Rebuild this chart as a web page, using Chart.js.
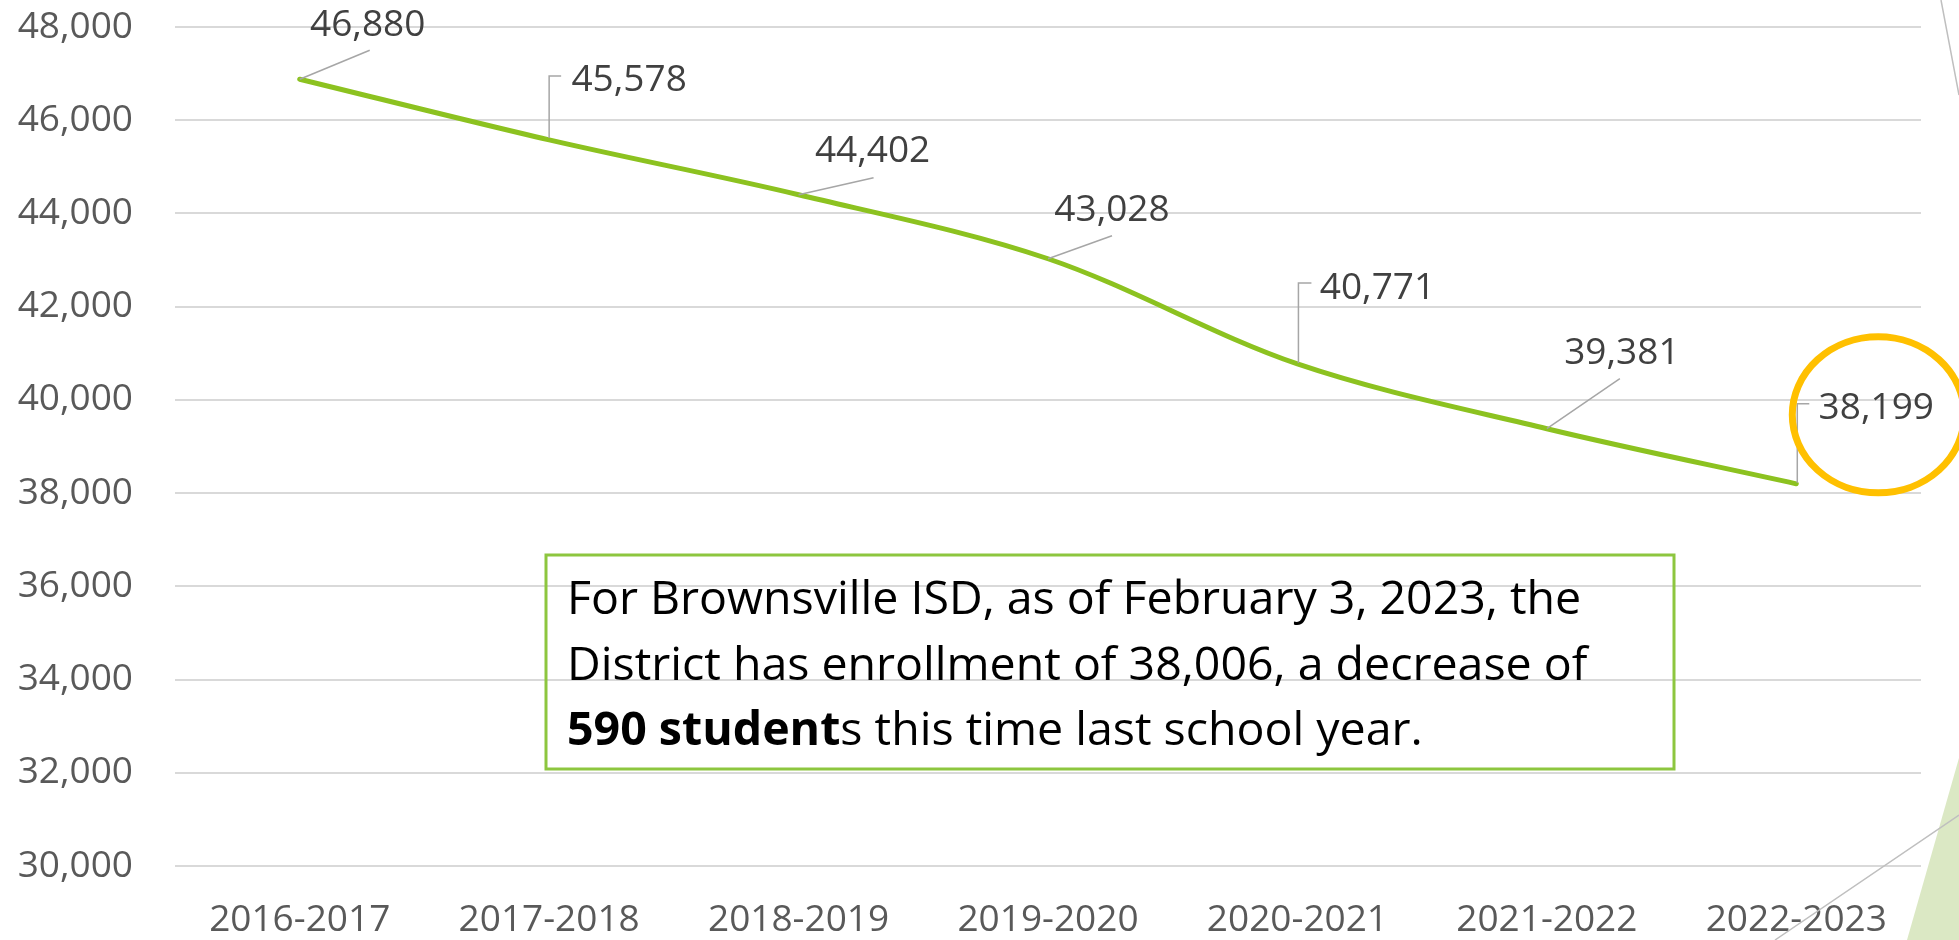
<!DOCTYPE html>
<html>
<head>
<meta charset="utf-8">
<script src="https://cdn.jsdelivr.net/npm/chart.js@4/dist/chart.umd.min.js"></script>
<style>
  html, body { margin: 0; padding: 0; background: #fff; }
  #wrap { position: relative; width: 1959px; height: 940px; }
</style>
</head>
<body>
<div id="wrap"><canvas id="enrollmentChart"></canvas></div>
<script>
  "use strict";

  // enrollment by school year
  const schoolYears = ['2016-2017', '2017-2018', '2018-2019', '2019-2020', '2020-2021', '2021-2022', '2022-2023'];
  const enrollment = [46880, 45578, 44402, 43028, 40771, 39381, 38199];
  const yMin = 30000;
  const yMax = 48000;
  const yStep = 2000;

  const noteLines = [
    [['For Brownsville ISD, as of February 3, 2023, the', false]],
    [['District has enrollment of 38,006, a decrease of', false]],
    [['590 student', true], ['s this time last school year.', false]]
  ];

  const FONT = '"Open Sans", "Liberation Sans", sans-serif';

  // where each value label sits relative to its point, and its leader line
  const labelPlacement = [
    { dx: 68, dy: -56, leader: [[0, 0], [70, -29]] },
    { dx: 80, dy: -62, leader: [[0, -2], [0, -64], [12, -64]] },
    { dx: 74, dy: -46, leader: [[0, 0], [75, -17]] },
    { dx: 64, dy: -51, leader: [[0, 0], [64, -23]] },
    { dx: 80, dy: -78, leader: [[1, -1], [1, -81], [14, -81]] },
    { dx: 75, dy: -78, leader: [[0, 0], [73, -50]] },
    { dx: 80, dy: -78, leader: [[1, -1], [1, -80], [13, -80]] }
  ];

  const valueLabels = {
    id: 'valueLabels',
    afterDatasetsDraw(chart) {
      const ctx = chart.ctx;
      const points = chart.getDatasetMeta(0).data;
      ctx.save();
      points.forEach((pt, i) => {
        const place = labelPlacement[i];
        ctx.beginPath();
        place.leader.forEach(([lx, ly], k) => {
          if (k === 0) ctx.moveTo(pt.x + lx, pt.y + ly);
          else ctx.lineTo(pt.x + lx, pt.y + ly);
        });
        ctx.strokeStyle = '#a6a6a6';
        ctx.lineWidth = 1.5;
        ctx.stroke();

        ctx.font = '37px ' + FONT;
        ctx.fillStyle = '#404040';
        ctx.textAlign = 'center';
        ctx.textBaseline = 'alphabetic';
        ctx.fillText(enrollment[i].toLocaleString('en-US'), pt.x + place.dx, pt.y + place.dy + 13);
      });

      // highlight ring round the latest year
      const last = points[points.length - 1];
      ctx.beginPath();
      ctx.ellipse(last.x + 82, last.y - 69, 86, 78, 0, 0, Math.PI * 2);
      ctx.strokeStyle = '#ffc000';
      ctx.lineWidth = 7;
      ctx.stroke();
      ctx.restore();
    }
  };

  const slideExtras = {
    id: 'slideExtras',
    afterDraw(chart) {
      const ctx = chart.ctx;
      ctx.save();

      // note box
      ctx.strokeStyle = '#8dc63f';
      ctx.lineWidth = 3;
      ctx.strokeRect(546, 555, 1128, 214);

      ctx.fillStyle = '#000';
      ctx.textAlign = 'left';
      ctx.textBaseline = 'alphabetic';
      noteLines.forEach((parts, i) => {
        let x = 567;
        const y = 614 + i * 65.5;
        parts.forEach(([text, bold]) => {
          ctx.font = (bold ? 'bold ' : '') + '46.5px ' + FONT;
          ctx.fillText(text, x, y);
          x += ctx.measureText(text).width;
        });
      });

      // slide decoration on the right edge
      ctx.fillStyle = '#dbe8c4';
      ctx.beginPath();
      ctx.moveTo(1959, 758);
      ctx.lineTo(1959, 940);
      ctx.lineTo(1907, 940);
      ctx.closePath();
      ctx.fill();

      ctx.strokeStyle = '#bfbfbf';
      ctx.lineWidth = 1.5;
      ctx.beginPath();
      ctx.moveTo(1941, 0);
      ctx.lineTo(1959, 95);
      ctx.moveTo(1775, 940);
      ctx.lineTo(1959, 815);
      ctx.stroke();

      ctx.restore();
    }
  };

  new Chart(document.getElementById('enrollmentChart').getContext('2d'), {
    type: 'line',
    data: {
      labels: schoolYears,
      datasets: [{
        label: 'Enrollment',
        data: enrollment,
        borderColor: '#8cc220',
        borderWidth: 5,
        borderCapStyle: 'round',
        tension: 0.33,
        pointRadius: 0,
        fill: false
      }]
    },
    options: {
      responsive: true,
      maintainAspectRatio: false,
      animation: false,
      layout: {
        padding: { top: 27, right: 38, left: 0, bottom: 0 }
      },
      plugins: {
        legend: { display: false },
        tooltip: { enabled: false }
      },
      scales: {
        x: {
          offset: true,
          afterFit(scale) { scale.height = 74; },
          grid: { display: false, drawTicks: false },
          border: { display: false },
          ticks: {
            padding: 32,
            color: '#595959',
            font: { family: FONT, size: 37 },
            maxRotation: 0
          }
        },
        y: {
          min: yMin,
          max: yMax,
          afterFit(scale) {
            scale.width = 175;
            scale.paddingTop = 0;
            scale.paddingBottom = 0;
          },
          grid: { color: '#d9d9d9', lineWidth: 2, drawTicks: false },
          border: { display: false },
          ticks: {
            stepSize: yStep,
            padding: 42,
            color: '#595959',
            font: { family: FONT, size: 37 },
            callback: (v) => v.toLocaleString('en-US')
          }
        }
      }
    },
    plugins: [valueLabels, slideExtras]
  });
</script>
</body>
</html>
